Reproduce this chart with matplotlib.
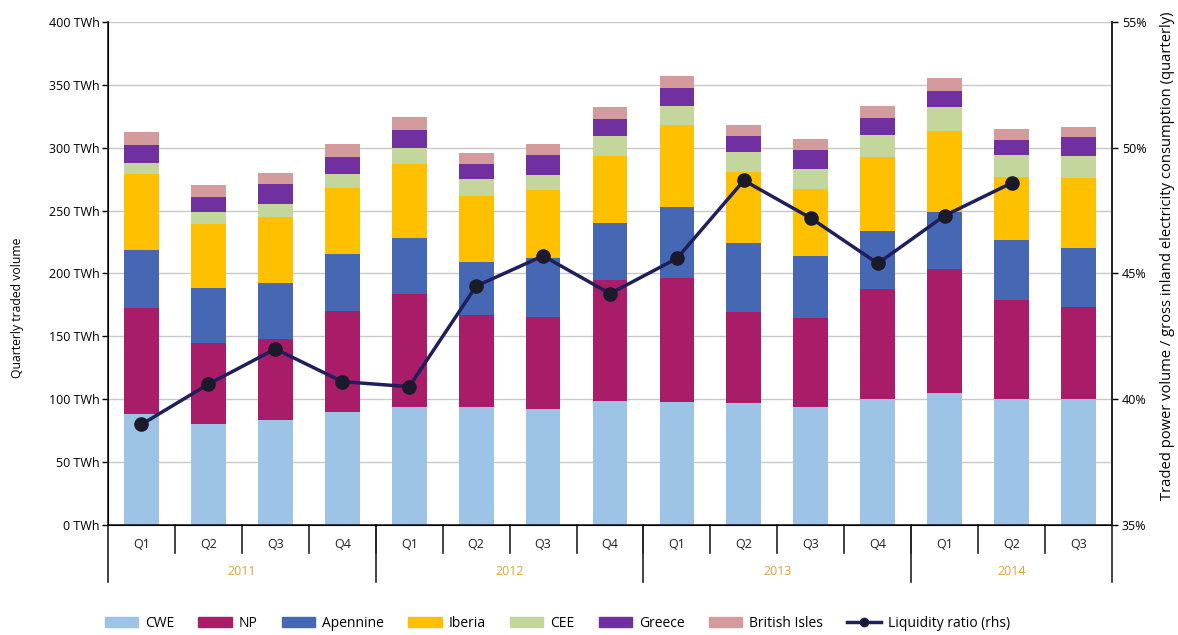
"""Quarterly traded power volume by region with liquidity ratio."""
import matplotlib
matplotlib.use("Agg")
import matplotlib.pyplot as plt
import matplotlib.patches as mpatches
import matplotlib.lines as mlines
import matplotlib.transforms as mtransforms
import numpy as np

plt.rcParams['font.family'] = ['Open Sans', 'DejaVu Sans']

quarters = ["Q1", "Q2", "Q3", "Q4", "Q1", "Q2", "Q3", "Q4",
            "Q1", "Q2", "Q3", "Q4", "Q1", "Q2", "Q3"]
years = ["2011", "2012", "2013", "2014"]
year_sizes = [4, 4, 4, 3]

# TWh per quarter, per region
cwe = [88.3, 80.1, 83.5, 89.9, 93.6, 93.6, 92.0, 98.6,
       97.6, 96.8, 93.6, 100.2, 104.7, 100.2, 100.2]
np_ = [84.0, 64.4, 64.2, 80.5, 90.1, 73.4, 73.2, 96.2,
       98.6, 72.3, 70.8, 87.5, 98.6, 78.7, 73.4]
apennine = [46.4, 43.7, 45.0, 45.1, 44.3, 42.4, 46.9, 45.1,
            56.9, 54.9, 49.5, 46.3, 45.8, 47.7, 46.9]
iberia = [60.4, 51.2, 52.0, 52.3, 58.8, 52.2, 54.3, 53.5,
          64.8, 57.0, 53.3, 58.4, 64.2, 50.4, 55.7]
cee = [9.0, 9.5, 10.6, 11.3, 13.2, 13.3, 11.9, 15.9,
       15.3, 15.4, 15.9, 18.0, 19.4, 17.5, 17.2]
greece = [14.1, 12.2, 15.9, 13.8, 14.1, 12.2, 15.9, 13.6,
          14.1, 12.9, 15.1, 13.5, 12.7, 11.7, 14.9]
british_isles = [10.6, 9.0, 8.5, 10.1, 10.1, 9.0, 8.5, 9.8,
                 9.7, 8.6, 8.5, 9.3, 10.3, 8.7, 8.2]

# liquidity ratio in % (no value for 2014 Q3)
liquidity = [39.0, 40.6, 42.0, 40.7, 40.5, 44.5, 45.7, 44.2,
             45.6, 48.7, 47.2, 45.4, 47.3, 48.6, np.nan]

series = [("CWE", cwe, "#9dc3e6"),
          ("NP", np_, "#a81c68"),
          ("Apennine", apennine, "#4668b4"),
          ("Iberia", iberia, "#ffc000"),
          ("CEE", cee, "#c3d69b"),
          ("Greece", greece, "#7030a0"),
          ("British Isles", british_isles, "#d39b9b")]

fig = plt.figure(figsize=(11.78, 6.35), dpi=100)
ax = fig.add_axes([0.0917, 0.1732, 0.8523, 0.7922])

x = np.arange(len(quarters))
bottom = np.zeros(len(quarters))
handles = []
for name, vals, col in series:
    ax.bar(x, vals, width=0.52, bottom=bottom, color=col, zorder=2)
    bottom += np.array(vals)
    handles.append(mpatches.Patch(color=col, label=name))

ax.set_xlim(-0.5, len(quarters) - 0.5)
ax.set_ylim(0, 400)
ax.set_yticks(np.arange(0, 401, 50))
ax.set_yticklabels([f"{v} TWh" for v in range(0, 401, 50)])
ax.yaxis.grid(True, color="#c8c8c8", lw=1.0, zorder=0)
ax.set_axisbelow(True)
ax.set_xticks([])
ax.tick_params(axis="y", length=4, width=1, labelsize=9, pad=2)
ax.spines["top"].set_visible(False)
for s in ["left", "bottom", "right"]:
    ax.spines[s].set_color("#222222")
    ax.spines[s].set_linewidth(1.2)

ax2 = ax.twinx()
ax2.set_ylim(35, 55)
ax2.set_yticks([35, 40, 45, 50, 55])
ax2.set_yticklabels([f"{v}%" for v in [35, 40, 45, 50, 55]])
ax2.tick_params(axis="y", length=4, width=1, labelsize=9, pad=3)
ax2.spines["top"].set_visible(False)
ax2.spines["right"].set_color("#222222")
ax2.spines["right"].set_linewidth(1.2)
ax2.plot(x, liquidity, color="#1f1f5c", lw=2.5, marker="o",
         markersize=9.5, markerfacecolor="#1a1a2a",
         markeredgecolor="#1a1a2a", zorder=5)
handles.append(mlines.Line2D([], [], color="#1f1f5c", lw=2.5, marker="o",
                             markersize=6, markerfacecolor="#1a1a2a",
                             label="Liquidity ratio (rhs)"))

# grouped category axis
trans = mtransforms.blended_transform_factory(ax.transData, ax.transAxes)
for i, q in enumerate(quarters):
    ax.text(i, -0.038, q, transform=trans, ha="center", va="center",
            fontsize=9, color="#222222")
for i in range(1, len(quarters)):
    ax.plot([i - 0.5, i - 0.5], [0, -0.056], transform=trans,
            color="#222222", lw=1.2, clip_on=False)
start = 0
edges = [-0.5]
for yr, n in zip(years, year_sizes):
    ax.text(start + (n - 1) / 2, -0.093, yr, transform=trans,
            ha="center", va="center", fontsize=9, color="#e3a23b")
    start += n
    edges.append(start - 0.5)
for e in edges:
    ax.plot([e, e], [0, -0.113], transform=trans,
            color="#222222", lw=1.2, clip_on=False)

fig.text(0.015, 0.516, "Quarterly traded volume", rotation=90,
         ha="center", va="center", fontsize=8.8)
fig.text(0.991, 0.597,
         "Traded power volume / gross inland electricity consumption (quarterly)",
         rotation=90, ha="center", va="center", fontsize=10.6)

fig.legend(handles=handles, loc="center", bbox_to_anchor=(0.473, 0.018),
           ncol=8, frameon=False, fontsize=10, handlelength=2.4,
           handleheight=0.7, columnspacing=1.75, handletextpad=0.5)

fig.savefig("out.png", dpi=100)
